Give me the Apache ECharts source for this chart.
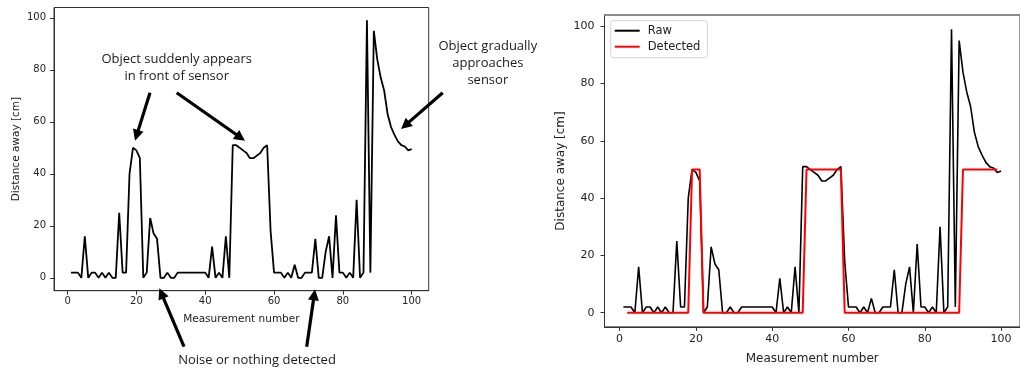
<!DOCTYPE html>
<html>
<head>
<meta charset="utf-8">
<script src="https://cdn.jsdelivr.net/npm/echarts@6/dist/echarts.min.js"></script>
<style>
html,body{margin:0;padding:0;background:#fff;}
#chart{width:1020px;height:370px;}
</style>
</head>
<body>
<div id="chart"></div>
<script>
// ---- DATA ----
const measurement = [1,2,3,4,5,6,7,8,9,10,11,12,13,14,15,16,17,18,19,20,21,22,23,24,25,26,27,28,29,30,31,32,33,34,35,36,37,38,39,40,41,42,43,44,45,46,47,48,49,50,51,52,53,54,55,56,57,58,59,60,61,62,63,64,65,66,67,68,69,70,71,72,73,74,75,76,77,78,79,80,81,82,83,84,85,86,87,88,89,90,91,92,93,94,95,96,97,98,99,100];
const rawDistance = [
  2,2,2,0,16,0,2,2,0,2,
  0,2,0,0,25,2,2,40,50,49,
  46,0,2,23,17,15,0,0,2,0,
  0,2,2,2,2,2,2,2,2,2,
  0,12,0,2,0,16,0,51,51,50,
  49,48,46,46,47,48,50,51,18,2,
  2,2,0,2,0,5,0,0,2,2,
  2,15,0,0,10,16,0,24,2,2,
  0,2,0,30,0,2,99,2,95,84,
  77,72,63,58,55,52.5,51,50.5,49,49.5
];
const detectedMeasurement = [2,3,4,5,6,7,8,9,10,11,12,13,14,15,16,17,18,19,20,21,22,23,24,25,26,27,28,29,30,31,32,33,34,35,36,37,38,39,40,41,42,43,44,45,46,47,48,49,50,51,52,53,54,55,56,57,58,59,60,61,62,63,64,65,66,67,68,69,70,71,72,73,74,75,76,77,78,79,80,81,82,83,84,85,86,87,88,89,90,91,92,93,94,95,96,97,98,99];
const detectedDistance = [
  0,0,0,0,0,0,0,0,0,0,0,0,0,0,0,0,0,
  50,50,50,
  0,0,0,0,0,0,0,0,0,0,0,0,0,0,0,0,0,0,0,0,0,0,0,0,0,0,0,
  50,50,50,50,50,50,50,50,50,50,
  0,0,0,0,0,0,0,0,0,0,0,0,0,0,0,0,0,0,0,0,0,0,0,0,0,0,0,0,0,0,0,
  50,50,50,50,50,50,50,50,50,50
];
const xTickLabels = [0,20,40,60,80,100];
const yTickLabels = [0,20,40,60,80,100];

// ---- BUILD ----
const rawPairs = measurement.map((m,i)=>[m, rawDistance[i]]);
const detPairs = detectedMeasurement.map((m,i)=>[m, detectedDistance[i]]);

const tickFont = 'DejaVu Sans';
const annFont = 'Open Sans';

function xAxisCfg(grid, fs, nfs, margin, gap){
  return {
    gridIndex:grid, type:'value', min:-3.95, max:104.95,
    axisLine:{show:true,onZero:false,lineStyle:{color:'#333',width:1}},
    splitLine:{show:false},
    axisTick:{show:true,customValues:xTickLabels,length:4,lineStyle:{color:'#333'}},
    axisLabel:{customValues:xTickLabels,fontSize:fs,color:'#222',margin:margin,fontFamily:tickFont},
    name:'Measurement number', nameLocation:'middle', nameGap:gap,
    nameTextStyle:{fontSize:nfs,color:'#222',fontFamily:tickFont}
  };
}
function yAxisCfg(grid, fs, nfs, margin, gap){
  return {
    gridIndex:grid, type:'value', min:-4.95, max:103.95,
    axisLine:{show:true,onZero:false,lineStyle:{color:'#333',width:1}},
    splitLine:{show:false},
    axisTick:{show:true,customValues:yTickLabels,length:4,lineStyle:{color:'#333'}},
    axisLabel:{customValues:yTickLabels,fontSize:fs,color:'#222',margin:margin,fontFamily:tickFont},
    name:'Distance away [cm]', nameLocation:'middle', nameGap:gap,
    nameTextStyle:{fontSize:nfs,color:'#222',fontFamily:tickFont}
  };
}

function arrow(x1,y1,x2,y2){
  const dx=x2-x1, dy=y2-y1, len=Math.sqrt(dx*dx+dy*dy);
  const ux=dx/len, uy=dy/len, px=-uy, py=ux;
  const L=11, W=5.5;
  const bx=x2-ux*L, by=y2-uy*L;
  return [
    {type:'line',shape:{x1:x1,y1:y1,x2:bx+ux*2,y2:by+uy*2},style:{stroke:'#000',lineWidth:3.2},z:100},
    {type:'polygon',shape:{points:[[x2,y2],[bx+px*W,by+py*W],[bx-px*W,by-py*W]]},style:{fill:'#000'},z:100}
  ];
}
function label(x,y,t){
  return {type:'text',x:x,y:y,z:100,style:{text:t,fill:'#1a1a1a',fontSize:13,fontFamily:annFont,
    textAlign:'center',textVerticalAlign:'middle',verticalAlign:'middle'}};
}

const graphics = [].concat(
  arrow(150,92.7,135,140.7),
  arrow(176.7,92.7,245,140.7),
  arrow(184,346.7,159.3,288.3),
  arrow(306.7,346.7,315,289.3),
  arrow(442.7,92.7,401,129),
  [label(176.7,59.3,'Object suddenly appears'),
   label(176.7,76,'in front of sensor'),
   label(257,360,'Noise or nothing detected'),
   label(487.8,46,'Object gradually'),
   label(487.8,63.3,'approaches'),
   label(487.8,80,'sensor')]
);

const option = {
  animation:false,
  backgroundColor:'#ffffff',
  grid:[
    {left:54,top:7.5,width:374.7,height:283.2,show:true,borderColor:'#333',borderWidth:1,backgroundColor:'transparent'},
    {left:604.5,top:15,width:421.5,height:311.9,show:true,borderColor:'#333',borderWidth:1,backgroundColor:'transparent'}
  ],
  xAxis:[
    xAxisCfg(0,10,10.5,6,23),
    xAxisCfg(1,11,12,7,26),
    {gridIndex:1,type:'value',position:'top',min:-3.95,max:104.95,
     axisLine:{show:true,onZero:false,lineStyle:{color:'#888',width:1.6}},
     axisTick:{show:false},axisLabel:{show:false},splitLine:{show:false}}
  ],
  yAxis:[
    yAxisCfg(0,10,10.5,8,32.5),
    yAxisCfg(1,11,12,10,37.5)
  ],
  legend:{
    data:[{name:'Raw',icon:'rect'},{name:'Detected',icon:'rect'}],
    orient:'vertical', left:610.7, top:20.7,
    itemWidth:25, itemHeight:2, itemGap:4,
    padding:[4,7,5,4],
    borderColor:'#d3d3d3', borderWidth:1, borderRadius:3, backgroundColor:'#fff',
    textStyle:{fontSize:11.5,fontFamily:tickFont,color:'#222',padding:[0,0,0,3]},
    selectedMode:false
  },
  series:[
    {name:'RawLeft',type:'line',xAxisIndex:0,yAxisIndex:0,data:rawPairs,symbol:'none',
     color:'#000',lineStyle:{color:'#000',width:1.8},silent:true},
    {name:'Raw',type:'line',xAxisIndex:1,yAxisIndex:1,data:rawPairs,symbol:'none',
     color:'#000',lineStyle:{color:'#000',width:1.6},silent:true},
    {name:'Detected',type:'line',xAxisIndex:1,yAxisIndex:1,data:detPairs,symbol:'none',
     color:'#ff0000',lineStyle:{color:'#ff0000',width:2},silent:true}
  ],
  graphic:graphics
};

const chart = echarts.init(document.getElementById('chart'),null,{renderer:'canvas'});
chart.setOption(option);
</script>
</body>
</html>
